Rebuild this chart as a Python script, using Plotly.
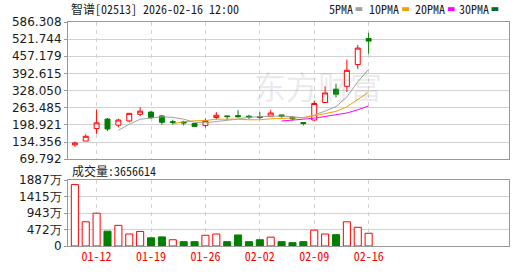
import plotly.graph_objects as go

# ---------------- data ----------------
dates = ["01-08", "01-09", "01-12", "01-13", "01-14", "01-15", "01-16",
         "01-19", "01-20", "01-21", "01-22", "01-23",
         "01-26", "01-27", "01-28", "01-29", "01-30",
         "02-02", "02-03", "02-04", "02-05", "02-06",
         "02-09", "02-10", "02-11", "02-12", "02-13", "02-16"]
opens = [123.7, 138.1, 184.9, 220.8, 197.8, 213.7, 238.8,
         247.1, 232.7, 211.1, 210.1, 203.9,
         196.8, 226.6, 232.7, 233.8, 231.6,
         230.2, 231.6, 236.3, 227.3, 207.6,
         217.3, 283.1, 333.4, 344.2, 425.9, 524.1]
highs = [135.6, 163.3, 256.8, 224.4, 221.9, 243.0, 265.1,
         250.7, 235.2, 218.3, 214.7, 205.0,
         223.0, 247.1, 232.7, 254.3, 236.3,
         247.1, 254.3, 236.5, 232.7, 208.0,
         290.3, 344.2, 354.0, 445.0, 500.0, 545.7]
lows = [116.5, 138.1, 165.5, 176.2, 189.6, 208.6, 231.6,
        220.8, 199.3, 199.3, 196.8, 192.1,
        188.5, 218.3, 218.3, 226.6, 220.8,
        220.8, 231.6, 226.6, 214.7, 196.8,
        215.0, 283.0, 302.2, 322.7, 410.1, 466.5]
closes = [130.9, 156.1, 206.5, 183.4, 217.3, 242.4, 250.7,
          226.6, 208.6, 208.6, 206.5, 193.2,
          214.7, 235.2, 230.2, 229.5, 228.0,
          226.6, 243.5, 230.2, 221.9, 204.0,
          279.5, 319.1, 314.4, 404.3, 488.1, 514.4]
volumes_wan = [1760, 694, 940, 426, 591, 344, 418,
               234, 261, 179, 124, 124,
               308, 344, 124, 316, 124,
               179, 253, 124, 96, 124,
               454, 344, 325, 693, 536, 365.66]
ma5 = [None, None, None, None, 178.8, 201.1, 220.1,
       224.1, 229.1, 227.4, 220.2, 208.7,
       206.3, 211.6, 216.0, 220.7, 227.7,
       230.0, 231.7, 231.7, 230.0, 225.2,
       235.8, 250.9, 267.8, 304.3, 361.1, 408.1]
ma10 = [None] * 9 + [203.1, 210.7, 214.4,
                     215.2, 220.4, 221.7, 220.5, 218.2,
                     218.2, 221.7, 223.8, 225.4, 226.5,
                     232.9, 241.3, 249.7, 267.2, 293.2, 321.9]
ma20 = [None] * 19 + [213.5, 218.0, 220.4,
                      224.1, 230.9, 235.7, 243.8, 255.7, 270.1]

price_ticks = [69.792, 134.356, 198.921, 263.485, 328.050,
               392.615, 457.179, 521.744, 586.308]
vol_ticks = [0, 471.75, 943.5, 1415.25, 1887]
vol_tick_text = ["0", "472万", "943万", "1415万", "1887万"]
date_ticks = ["01-12", "01-19", "01-26", "02-02", "02-09", "02-16"]

title_text = "智谱[02513] 2026-02-16 12:00"
volume_label = "成交量:3656614"

# ---------------- styling ----------------
RED = "#ff0000"
GREEN = "#008000"
GRID = "#d2d2d2"
BORDER = "#999999"
MONO = "Noto Sans Mono CJK SC, Noto Sans CJK SC, monospace"
SANS = "DejaVu Sans, Verdana, sans-serif"

W, H = 530, 276
ML, MR, MT, MB = 55, 21, 22, 20
PW, PH = W - ML - MR, H - MT - MB


def px_x(px):
    return (px - ML) / PW


def px_y(py):
    return (H - MB - py) / PH


# volume colours: up vs previous close
vol_fill, vol_line = [], []
for i in range(len(closes)):
    ref = opens[i] if i == 0 else closes[i - 1]
    up = closes[i] >= ref
    vol_fill.append("white" if up else GREEN)
    vol_line.append(RED if up else GREEN)

fig = go.Figure()

fig.add_trace(go.Candlestick(
    x=dates, open=opens, high=highs, low=lows, close=closes,
    increasing=dict(line=dict(color=RED, width=1), fillcolor="white"),
    decreasing=dict(line=dict(color=GREEN, width=1), fillcolor=GREEN),
    whiskerwidth=0, xaxis="x", yaxis="y", showlegend=False, hoverinfo="skip",
))

for vals, col in [(ma5, "#a0a0a0"), (ma10, "#f0a000"), (ma20, "#ff00ff")]:
    fig.add_trace(go.Scatter(x=dates, y=vals, mode="lines",
                             line=dict(color=col, width=1),
                             xaxis="x", yaxis="y", showlegend=False,
                             hoverinfo="skip"))

fig.add_trace(go.Bar(
    x=dates, y=volumes_wan, width=0.65,
    marker=dict(color=vol_fill, line=dict(color=vol_line, width=1)),
    xaxis="x2", yaxis="y2", showlegend=False, hoverinfo="skip",
))

x_range = [-0.63, 39.9]
common_x = dict(type="category", categoryorder="array", categoryarray=dates,
                range=x_range, tickmode="array", tickvals=date_ticks,
                showgrid=True, gridcolor=GRID, griddash="4px,4px", gridwidth=1,
                showline=True, linecolor=BORDER, linewidth=1, mirror=True,
                zeroline=False, fixedrange=True)

main_bottom = px_y(165.3)
vol_top = px_y(187.2)

fig.update_layout(
    width=W, height=H,
    margin=dict(l=ML, r=MR, t=MT, b=MB, pad=0),
    paper_bgcolor="white", plot_bgcolor="white",
    boxgap=0.35,
    xaxis=dict(common_x, domain=[0, 1], anchor="y", showticklabels=False,
               rangeslider=dict(visible=False), ticks=""),
    xaxis2=dict(common_x, domain=[0, 1], anchor="y2", showticklabels=True,
                ticks="", tickfont=dict(family=MONO, size=12, color=RED)),
    yaxis=dict(domain=[main_bottom, 1], range=[price_ticks[0], price_ticks[-1]],
               tickmode="array", tickvals=price_ticks,
               ticktext=[f"{v:.3f}" for v in price_ticks],
               showgrid=True, gridcolor=GRID, gridwidth=1,
               showline=True, linecolor=BORDER, linewidth=1, mirror=True,
               ticks="outside", ticklen=3, tickcolor=BORDER,
               tickfont=dict(family=SANS, size=12, color="#1a1a1a"),
               zeroline=False, fixedrange=True),
    yaxis2=dict(domain=[0, vol_top], range=[0, vol_ticks[-1]],
                tickmode="array", tickvals=vol_ticks, ticktext=vol_tick_text,
                showgrid=True, gridcolor=GRID, gridwidth=1,
                showline=True, linecolor=BORDER, linewidth=1, mirror=True,
                ticks="outside", ticklen=3, tickcolor=BORDER,
                tickfont=dict(family=SANS, size=12, color="#1a1a1a"),
                zeroline=False, fixedrange=True),
    showlegend=False,
)

annotations = [
    dict(text=title_text, x=px_x(56), y=px_y(8), xref="paper", yref="paper",
         xanchor="left", yanchor="middle", showarrow=False,
         font=dict(family=MONO, size=12, color="#1a1a1a")),
    dict(text=volume_label, x=px_x(57), y=px_y(177), xref="paper", yref="paper",
         xanchor="left", yanchor="middle", showarrow=False,
         font=dict(family=MONO, size=12, color="#1a1a1a")),
    dict(text="东方财富", x=px_x(312), y=px_y(88), xref="paper", yref="paper",
         xanchor="center", yanchor="middle", showarrow=False,
         font=dict(family="Noto Sans CJK SC", size=32, color="rgba(160,160,175,0.22)")),
]
# (label, square left px, colour)
legend_items = [("5PMA", 351, "#a0a0a0"), ("10PMA", 399, "#f0a000"),
                ("20PMA", 446, "#ff00ff"), ("30PMA", 491, "#006a30")]
shapes = []
for label, sx, col in legend_items:
    annotations.append(dict(text=label, x=px_x(sx - 1), y=px_y(8), xref="paper",
                            yref="paper", xanchor="right", yanchor="middle",
                            showarrow=False,
                            font=dict(family=MONO, size=12, color="#1a1a1a")))
    shapes.append(dict(type="rect", xref="paper", yref="paper",
                       x0=px_x(sx), x1=px_x(sx + 7), y0=px_y(10.5), y1=px_y(6.5),
                       fillcolor=col, line=dict(width=0)))

fig.update_layout(annotations=annotations, shapes=shapes)

fig.write_html("out.html", config={"displayModeBar": False})
